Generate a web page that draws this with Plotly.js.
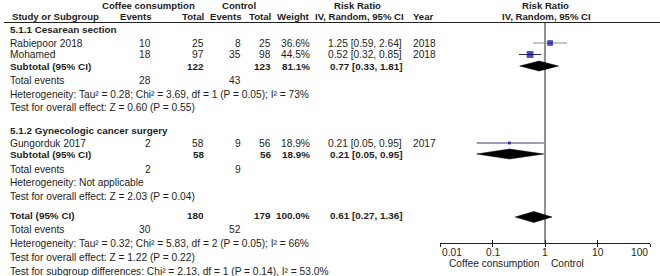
<!DOCTYPE html>
<html>
<head>
<meta charset="utf-8">
<script src="https://cdn.plot.ly/plotly-3.0.1.min.js"></script>
<style>html,body{margin:0;padding:0;background:#fff}#chart{width:660px;height:276px}</style>
</head>
<body>
<div id="chart"></div>
<script>
// ---------- data ----------
const studies      = ['Rabiepoor 2018', 'Mohamed', 'Gungorduk 2017'];
const expEvents    = [10, 18, 2];
const expTotal     = [25, 97, 58];
const ctrlEvents   = [8, 35, 9];
const ctrlTotal    = [25, 98, 56];
const weights      = [36.6, 44.5, 18.9];
const rr           = [1.25, 0.52, 0.21];
const rrLo         = [0.59, 0.32, 0.05];
const rrHi         = [2.64, 0.85, 0.95];
const years        = [2018, 2018, 2017];

const subgroups        = ['5.1.1 Cesarean section', '5.1.2 Gynecologic cancer surgery'];
const subExpTotal      = [122, 58];
const subCtrlTotal     = [123, 56];
const subWeight        = [81.1, 18.9];
const subRR            = [0.77, 0.21];
const subLo            = [0.33, 0.05];
const subHi            = [1.81, 0.95];
const subExpEvents     = [28, 2];
const subCtrlEvents    = [43, 9];
const subHetero        = ['Heterogeneity: Tau² = 0.28; Chi² = 3.69, df = 1 (P = 0.05); I² = 73%', 'Heterogeneity: Not applicable'];
const subTest          = ['Test for overall effect: Z = 0.60 (P = 0.55)', 'Test for overall effect: Z = 2.03 (P = 0.04)'];

const totExpTotal   = 180, totCtrlTotal = 179, totWeight = 100.0;
const totRR = 0.61, totLo = 0.27, totHi = 1.36;
const totExpEvents = 30, totCtrlEvents = 52;
const totHetero = 'Heterogeneity: Tau² = 0.32; Chi² = 5.83, df = 2 (P = 0.05); I² = 66%';
const totTest   = 'Test for overall effect: Z = 1.22 (P = 0.22)';
const subDiff   = 'Test for subgroup differences: Chi² = 2.13, df = 1 (P = 0.14), I² = 53.0%';

const tickVals   = [0.01, 0.1, 1, 10, 100];
const tickLabels = ['0.01', '0.1', '1', '10', '100'];
const favoursLeft = 'Coffee consumption', favoursRight = 'Control';

// ---------- layout positions (pixels) ----------
const W = 660, H = 276;
const rowStudy    = [43, 54.5, 143];
const rowSubHead  = [29.5, 130];
const rowSubtotal = [66, 154];
const rowSubEv    = [80, 169];
const rowSubHet   = [94, 182.5];
const rowSubTest  = [107.5, 196];
const rowTotal = 215.5, rowTotEv = 229.5, rowTotHet = 243.5, rowTotTest = 257.5, rowDiff = 271;
const axisY = 243.3, topLineY = 22.5, tickLabY = 252, favY = 263;
const colStudy = 9, colEE = 152, colET = 204.5, colCE = 241.5, colCT = 272, colW = 311, colCI = 403, colYear = 412;
const ciLineColors = ['#8a8a8a', '#2a2a60', '#3a3a6a'];
const sqColor = '#0000a0';

const FONT = 'Liberation Sans, Arial, sans-serif';
const FS = 10.2;   // regular text
const FSB = 9.9;   // bold rows
const FSH = 9.6;   // bold headers
const TC = '#1e1e1e';

const ann = [];
function txt(text, xpx, ypx, anchor, size) {
  ann.push({
    text: text, xref: 'paper', yref: 'y', x: xpx / W, y: ypx,
    xanchor: anchor || 'left', yanchor: 'middle', showarrow: false,
    font: {family: FONT, size: size || FS, color: TC}, borderpad: 0
  });
}
const b = s => '<b>' + s + '</b>';
const ci = (m, l, h) => m.toFixed(2) + ' [' + l.toFixed(2) + ', ' + h.toFixed(2) + ']';

// headers
txt(b('Coffee consumption'), 148, 5, 'center', FSH);
txt(b('Control'), 238.5, 5, 'center', FSH);
txt(b('Risk Ratio'), 357, 5, 'center', FSH);
txt(b('Risk Ratio'), 545.5, 5, 'center', FSH);
txt(b('Study or Subgroup'), 11, 16.5, 'left', FSH);
txt(b('Events'), colEE, 16.5, 'right', FSH);
txt(b('Total'), colET, 16.5, 'right', FSH);
txt(b('Events'), colCE, 16.5, 'right', FSH);
txt(b('Total'), colCT, 16.5, 'right', FSH);
txt(b('Weight'), colW, 16.5, 'right', FSH);
txt(b('IV, Random, 95% CI'), 359, 16.5, 'center', FSH);
txt(b('Year'), colYear, 16.5, 'left', FSH);
txt(b('IV, Random, 95% CI'), 546, 16.5, 'center', FSH);

// studies
studies.forEach((s, i) => {
  const y = rowStudy[i];
  txt(s, colStudy, y, 'left');
  txt(String(expEvents[i]), colEE, y, 'right');
  txt(String(expTotal[i]), colET, y, 'right');
  txt(String(ctrlEvents[i]), colCE, y, 'right');
  txt(String(ctrlTotal[i]), colCT, y, 'right');
  txt(weights[i].toFixed(1) + '%', colW, y, 'right');
  txt(ci(rr[i], rrLo[i], rrHi[i]), colCI, y, 'right');
  txt(String(years[i]), colYear, y, 'left');
});

// subgroups
subgroups.forEach((g, k) => {
  txt(b(g), colStudy, rowSubHead[k], 'left', FSB);
  const y = rowSubtotal[k];
  txt(b('Subtotal (95% CI)'), colStudy, y, 'left', FSB);
  txt(b(String(subExpTotal[k])), colET, y, 'right', FSB);
  txt(b(String(subCtrlTotal[k])), colCT, y, 'right', FSB);
  txt(b(subWeight[k].toFixed(1) + '%'), colW, y, 'right', FSB);
  txt(b(ci(subRR[k], subLo[k], subHi[k])), colCI, y, 'right', FSB);
  txt('Total events', colStudy, rowSubEv[k], 'left');
  txt(String(subExpEvents[k]), colEE, rowSubEv[k], 'right');
  txt(String(subCtrlEvents[k]), colCE, rowSubEv[k], 'right');
  txt(subHetero[k], colStudy, rowSubHet[k], 'left');
  txt(subTest[k], colStudy, rowSubTest[k], 'left');
});

// overall
txt(b('Total (95% CI)'), colStudy, rowTotal, 'left', FSB);
txt(b(String(totExpTotal)), colET, rowTotal, 'right', FSB);
txt(b(String(totCtrlTotal)), colCT, rowTotal, 'right', FSB);
txt(b(totWeight.toFixed(1) + '%'), colW, rowTotal, 'right', FSB);
txt(b(ci(totRR, totLo, totHi)), colCI, rowTotal, 'right', FSB);
txt('Total events', colStudy, rowTotEv, 'left');
txt(String(totExpEvents), colEE, rowTotEv, 'right');
txt(String(totCtrlEvents), colCE, rowTotEv, 'right');
txt(totHetero, colStudy, rowTotHet, 'left');
txt(totTest, colStudy, rowTotTest, 'left');
txt(subDiff, colStudy, rowDiff, 'left');

// tick labels and favours labels placed through the log x axis (annotation x = log10 value)
tickVals.forEach((v, i) => {
  const anchor = i === 0 ? 'left' : (i === tickVals.length - 1 ? 'right' : 'center');
  ann.push({text: tickLabels[i], xref: 'x', yref: 'y', x: Math.log10(v), y: tickLabY,
    xanchor: anchor, xshift: i === 0 ? 1 : (i === tickVals.length - 1 ? -1 : 0),
    yanchor: 'middle', showarrow: false, font: {family: FONT, size: FS, color: TC}, borderpad: 0});
});
ann.push({text: favoursLeft, xref: 'x', yref: 'y', x: Math.log10(1), y: favY, xanchor: 'right', xshift: -5,
  yanchor: 'middle', showarrow: false, font: {family: FONT, size: FS, color: TC}, borderpad: 0});
ann.push({text: favoursRight, xref: 'x', yref: 'y', x: Math.log10(1), y: favY, xanchor: 'left', xshift: 5,
  yanchor: 'middle', showarrow: false, font: {family: FONT, size: FS, color: TC}, borderpad: 0});

// ---------- traces ----------
const traces = [];
traces.push({type: 'scatter', mode: 'lines', x: [1, 1], y: [topLineY, axisY],
  line: {color: '#222', width: 1}, hoverinfo: 'skip', showlegend: false});
studies.forEach((s, i) => {
  traces.push({type: 'scatter', mode: 'lines', x: [rrLo[i], rrHi[i]], y: [rowStudy[i], rowStudy[i]],
    line: {color: ciLineColors[i], width: 1}, hoverinfo: 'skip', showlegend: false});
});
traces.push({type: 'scatter', mode: 'markers', x: rr, y: rowStudy,
  marker: {symbol: 'square', color: sqColor, size: weights.map(w => w * 0.155), line: {width: 0}},
  hoverinfo: 'skip', showlegend: false});
function diamond(m, l, h, y, hh) {
  traces.push({type: 'scatter', mode: 'lines', x: [l, m, h, m, l], y: [y, y - hh, y, y + hh, y],
    fill: 'toself', fillcolor: '#000', line: {color: '#000', width: 0.5}, hoverinfo: 'skip', showlegend: false});
}
subgroups.forEach((g, k) => diamond(subRR[k], subLo[k], subHi[k], rowSubtotal[k], 5));
diamond(totRR, totLo, totHi, rowTotal + 1.5, 5.5);
traces.push({type: 'scatter', mode: 'markers', x: [1], y: [axisY], xaxis: 'x2', marker: {opacity: 0}, hoverinfo: 'skip', showlegend: false});

const xDomain = [440 / W, 650 / W];
const axPos = (H - axisY) / H;
const layout = {
  width: W, height: H, margin: {l: 0, r: 0, t: 0, b: 0},
  paper_bgcolor: '#fff', plot_bgcolor: 'rgba(0,0,0,0)',
  showlegend: false,
  font: {family: FONT, size: FS, color: TC},
  xaxis: {type: 'log', range: [-2, 2], domain: xDomain, anchor: 'free', position: axPos,
    showline: true, linecolor: '#222', linewidth: 1, showgrid: false, zeroline: false,
    ticks: 'outside', ticklen: 3, tickcolor: '#222', tickwidth: 1,
    tickvals: tickVals, showticklabels: false, fixedrange: true},
  xaxis2: {type: 'log', range: [-2, 2], domain: xDomain, anchor: 'free', position: axPos, overlaying: 'x',
    showline: false, showgrid: false, zeroline: false, ticks: 'inside', ticklen: 3, tickcolor: '#222', tickwidth: 1,
    tickvals: tickVals, showticklabels: false},
  yaxis: {range: [H, 0], domain: [0, 1], visible: false, fixedrange: true},
  shapes: [{type: 'line', xref: 'paper', yref: 'y', x0: 4 / W, x1: 1, y0: topLineY, y1: topLineY,
    line: {color: '#222', width: 1}}],
  annotations: ann
};

Plotly.newPlot('chart', traces, layout, {staticPlot: true, displayModeBar: false});
</script>
</body>
</html>
